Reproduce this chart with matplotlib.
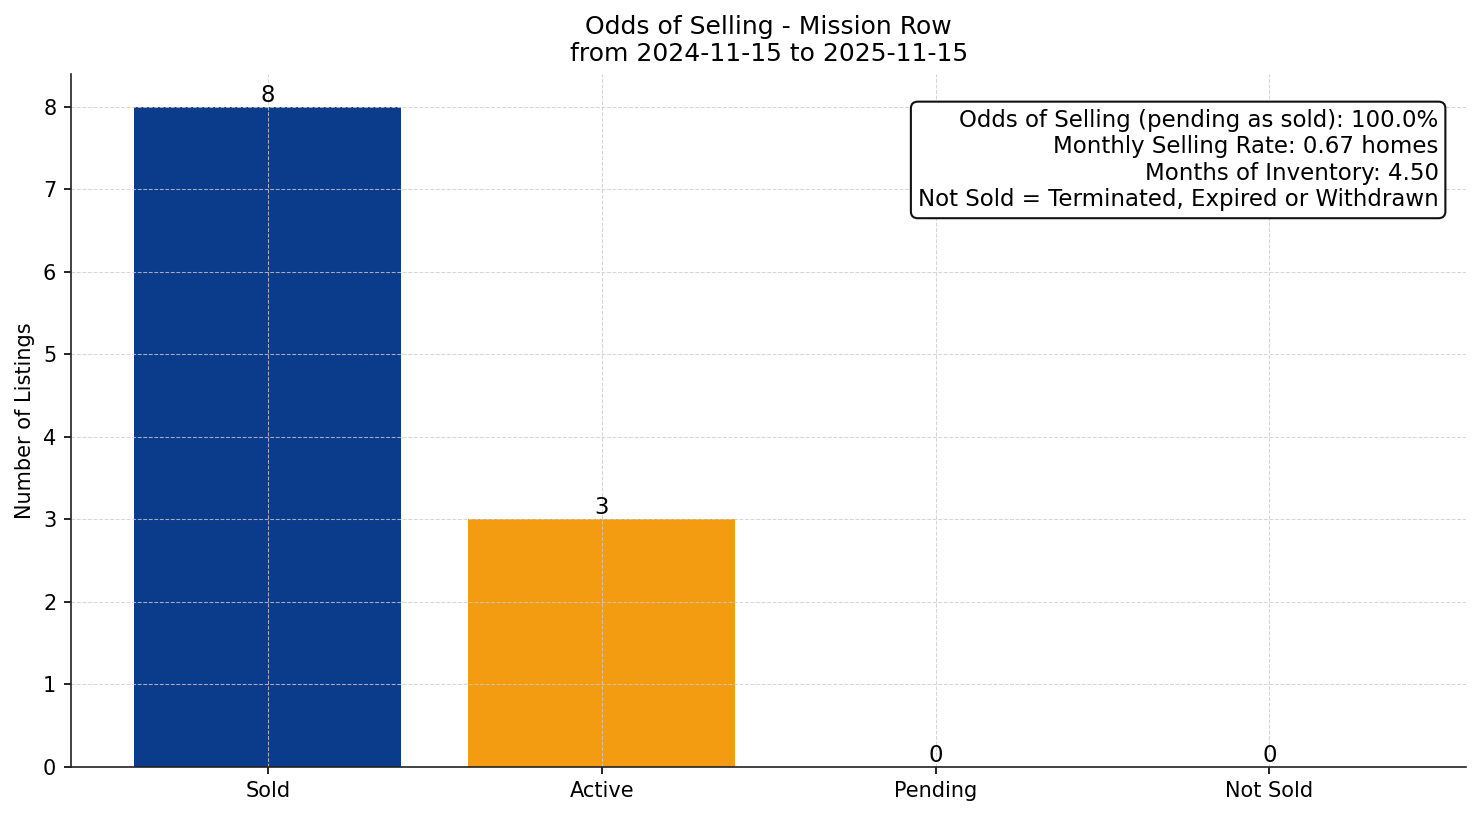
import matplotlib
matplotlib.use("Agg")
import matplotlib.pyplot as plt

area = "Mission Row"
start_date = "2024-11-15"
end_date = "2025-11-15"

categories = ["Sold", "Active", "Pending", "Not Sold"]
counts = [8, 3, 0, 0]
bar_colors = ["#0b3c8c", "#f39c12", "#2ca02c", "#c0392b"]

odds_pct = 100.0
monthly_rate = 0.67
months_inventory = 4.50

fig, ax = plt.subplots(figsize=(1481 / 150, 816 / 150), dpi=150)

bars = ax.bar(categories, counts, color=bar_colors, width=0.8)
for b, v in zip(bars, counts):
    ax.text(b.get_x() + b.get_width() / 2, v, str(v), ha="center", va="bottom", fontsize=11)

ax.set_title(f"Odds of Selling - {area}\nfrom {start_date} to {end_date}", fontsize=12)
ax.set_ylabel("Number of Listings")
ax.grid(True, linestyle="--", linewidth=0.5, color="#cccccc", alpha=0.8)
ax.spines["top"].set_visible(False)
ax.spines["right"].set_visible(False)
for s in ("left", "bottom"):
    ax.spines[s].set_color("#222222")

info = (f"Odds of Selling (pending as sold): {odds_pct:.1f}%\n"
        f"Monthly Selling Rate: {monthly_rate:.2f} homes\n"
        f"Months of Inventory: {months_inventory:.2f}\n"
        "Not Sold = Terminated, Expired or Withdrawn")
ax.text(0.98, 0.95, info, transform=ax.transAxes, ha="right", va="top",
        fontsize=11, multialignment="right",
        bbox=dict(boxstyle="round,pad=0.3", facecolor="white", edgecolor="#111111"))

fig.tight_layout(pad=0.7)
fig.savefig("out.png", dpi=150)
